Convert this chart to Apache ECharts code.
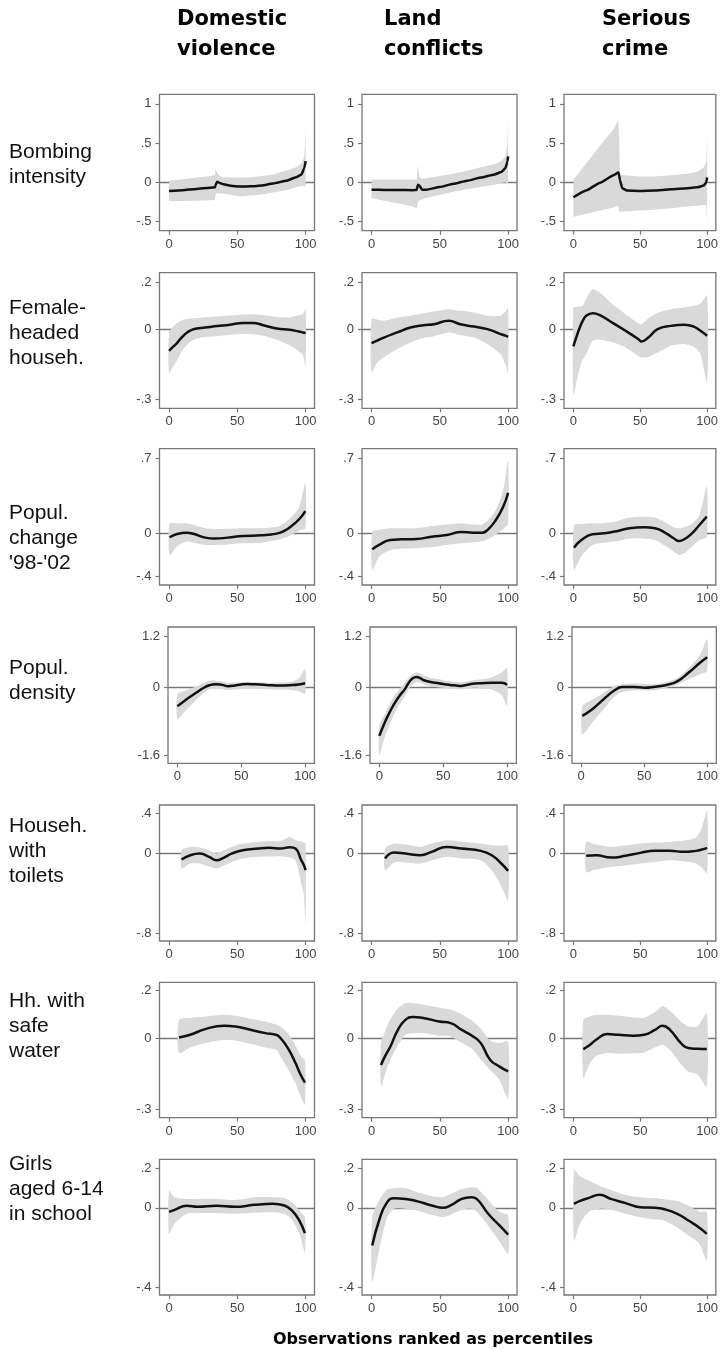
<!DOCTYPE html>
<html><head><meta charset="utf-8">
<script src="https://cdn.jsdelivr.net/npm/echarts@6/dist/echarts.min.js"></script>
<style>html,body{margin:0;padding:0;background:#fff}#c{width:721px;height:1350px}</style>
</head><body><div id="c"></div>
<script>
// ---------- DATA ----------
const colTitles = ['Domestic\nviolence', 'Land\nconflicts', 'Serious\ncrime'];
const rowLabels = ['Bombing\nintensity', 'Female-\nheaded\nhouseh.', "Popul.\nchange\n'98-'02", 'Popul.\ndensity',
  'Househ.\nwith\ntoilets', 'Hh. with\nsafe\nwater', 'Girls\naged 6-14\nin school'];
const xTitle = 'Observations ranked as percentiles';
const xTicks = [0, 50, 100];
const yTicks = [[-0.5, 0, 0.5, 1], [-0.3, 0, 0.2], [-0.4, 0, 0.7], [-1.6, 0, 1.2], [-0.8, 0, 0.4], [-0.3, 0, 0.2], [-0.4, 0, 0.2]];

// rows: [percentile, estimate, lower CI, upper CI]
const bombing_domestic = [[0,-0.11,-0.24,0.02],[10,-0.1,-0.24,0.04],[20,-0.085,-0.235,0.06],[30,-0.07,-0.23,0.08],[33.6,-0.064,-0.225,0.093],[34,-0.04,-0.15,0.165],[35.2,0.008,-0.14,0.12],[37,-0.008,-0.14,0.08],[40,-0.025,-0.145,0.065],[45,-0.045,-0.16,0.06],[52,-0.055,-0.18,0.06],[60,-0.052,-0.17,0.065],[68,-0.04,-0.155,0.08],[76,-0.017,-0.13,0.1],[86,0.02,-0.1,0.15],[93,0.064,-0.064,0.19],[97,0.1,-0.047,0.24],[99,0.18,-0.05,0.33],[100,0.27,-0.055,0.68]];
const bombing_land = [[0,-0.095,-0.2,0.035],[10,-0.097,-0.24,0.035],[20,-0.098,-0.27,0.035],[30,-0.1,-0.31,0.035],[33,-0.098,-0.33,0.035],[34,-0.03,-0.25,0.22],[35,-0.04,-0.23,0.07],[37,-0.095,-0.22,0.045],[40,-0.095,-0.2,0.05],[50,-0.06,-0.16,0.08],[60,-0.02,-0.12,0.11],[70,0.02,-0.09,0.15],[80,0.06,-0.06,0.19],[90,0.1,-0.03,0.23],[95,0.13,-0.01,0.27],[98,0.18,0,0.33],[99.5,0.26,-0.02,0.5],[100,0.33,-0.05,0.83]];
const bombing_crime = [[0,-0.19,-0.44,0.03],[10,-0.1,-0.4,0.25],[20,-0.005,-0.36,0.47],[30,0.09,-0.32,0.68],[33.6,0.123,-0.3,0.79],[34.2,0.09,-0.37,0.6],[34.8,0.03,-0.375,0.1],[36.5,-0.076,-0.375,0.09],[40,-0.106,-0.37,0.085],[50,-0.11,-0.36,0.075],[60,-0.105,-0.35,0.075],[73,-0.09,-0.33,0.09],[85,-0.075,-0.31,0.11],[92.7,-0.064,-0.3,0.135],[97.5,-0.042,-0.29,0.19],[99.3,-0.004,-0.29,0.26],[100,0.06,-0.52,0.62]];

const female_domestic = [[0,-0.093,-0.19,-0.014],[3,-0.075,-0.16,0.01],[5.6,-0.061,-0.135,0.025],[10.5,-0.028,-0.085,0.04],[16.6,-0.003,-0.05,0.046],[25,0.006,-0.035,0.05],[35,0.013,-0.03,0.054],[44.6,0.019,-0.024,0.058],[54,0.026,-0.021,0.062],[61.7,0.026,-0.022,0.064],[69,0.017,-0.028,0.06],[78.8,0.003,-0.045,0.052],[88.5,-0.003,-0.07,0.05],[95,-0.01,-0.095,0.06],[98,-0.014,-0.11,0.065],[100,-0.017,-0.16,0.085]];
const female_land = [[0,-0.06,-0.185,0.043],[4.5,-0.048,-0.14,0.04],[9,-0.036,-0.12,0.036],[18.8,-0.014,-0.085,0.05],[28.5,0.007,-0.057,0.057],[38,0.017,-0.038,0.068],[45.7,0.021,-0.03,0.075],[56.6,0.036,-0.014,0.085],[65,0.021,-0.025,0.078],[75,0.011,-0.036,0.071],[84.8,0,-0.064,0.057],[94.6,-0.021,-0.107,0.057],[98,-0.028,-0.15,0.075],[100,-0.033,-0.19,0.093]];
const female_crime = [[0,-0.074,-0.28,0.093],[2.5,-0.03,-0.22,0.095],[4.8,0.007,-0.165,0.098],[7,0.035,-0.13,0.1],[9.6,0.057,-0.107,0.13],[14.5,0.068,-0.05,0.17],[19.4,0.061,-0.045,0.157],[29,0.028,-0.055,0.107],[39,-0.007,-0.078,0.064],[48.7,-0.043,-0.115,0.025],[51,-0.053,-0.121,0.021],[56,-0.036,-0.12,0.045],[63,0,-0.1,0.07],[73,0.014,-0.071,0.085],[83,0.019,-0.064,0.093],[90,0.011,-0.075,0.1],[95,-0.007,-0.107,0.11],[100,-0.028,-0.23,0.142]];

const popchange_domestic = [[0.4,-0.034,-0.2,0.096],[5.9,-0.003,-0.12,0.096],[12.8,0.009,-0.074,0.096],[18.3,-0.003,-0.085,0.08],[26.5,-0.037,-0.105,0.05],[33.4,-0.046,-0.105,0.043],[43,-0.037,-0.1,0.045],[54,-0.022,-0.09,0.05],[67.8,-0.015,-0.084,0.05],[78.8,0,-0.06,0.065],[84.3,0.025,-0.04,0.1],[89.9,0.074,-0.01,0.158],[95.4,0.136,0.03,0.25],[99.8,0.21,0.05,0.47]];
const popchange_land = [[0.5,-0.146,-0.337,0.019],[5.5,-0.105,-0.214,0.035],[13.8,-0.059,-0.152,0.05],[22,-0.053,-0.14,0.05],[33,-0.05,-0.136,0.05],[44,-0.028,-0.125,0.07],[55,-0.012,-0.105,0.085],[66,0.015,-0.09,0.096],[74.4,0.009,-0.08,0.085],[81,0.009,-0.07,0.085],[85.4,0.04,-0.05,0.127],[91,0.127,-0.01,0.22],[96.4,0.25,0.04,0.4],[100,0.38,0.096,0.68]];
const popchange_crime = [[0.5,-0.13,-0.337,0.08],[6,-0.059,-0.21,0.09],[14.3,-0.006,-0.105,0.096],[22.6,0.003,-0.085,0.1],[30.9,0.019,-0.074,0.11],[41.9,0.05,-0.045,0.15],[52.9,0.059,-0.045,0.158],[61,0.05,-0.06,0.15],[69.4,0.003,-0.12,0.1],[75,-0.043,-0.165,0.06],[79,-0.068,-0.198,0.05],[83.2,-0.05,-0.18,0.06],[88.7,0.003,-0.12,0.09],[94.2,0.08,-0.06,0.17],[99.7,0.158,-0.028,0.44]];

const density_domestic = [[0,-0.45,-0.76,-0.17],[5,-0.34,-0.6,-0.1],[10,-0.23,-0.45,-0.04],[15,-0.13,-0.3,0.01],[20,-0.03,-0.16,0.09],[25,0.04,-0.06,0.15],[30,0.065,-0.04,0.15],[35,0.05,-0.05,0.13],[40,0.02,-0.07,0.1],[45,0.035,-0.06,0.1],[50,0.06,-0.04,0.11],[55,0.07,-0.03,0.12],[60,0.065,-0.04,0.11],[70,0.05,-0.05,0.1],[80,0.035,-0.06,0.1],[90,0.045,-0.07,0.13],[95,0.06,-0.1,0.2],[100,0.09,-0.16,0.42]];
const density_land = [[0,-1.15,-1.6,-0.9],[4,-0.85,-1.2,-0.65],[8,-0.6,-0.9,-0.4],[12,-0.38,-0.62,-0.2],[16,-0.2,-0.4,-0.04],[20,-0.05,-0.22,0.1],[23,0.1,-0.05,0.22],[26,0.2,0.06,0.3],[29,0.235,0.11,0.34],[32,0.21,0.1,0.32],[35,0.16,0.06,0.27],[40,0.12,0.02,0.22],[44,0.1,0,0.2],[50,0.07,-0.02,0.16],[55,0.05,-0.04,0.14],[60,0.035,-0.05,0.12],[64,0.025,-0.05,0.11],[68,0.045,-0.04,0.13],[73,0.075,-0.02,0.16],[80,0.09,-0.03,0.18],[88,0.1,-0.06,0.23],[96,0.1,-0.2,0.35],[100,0.05,-0.45,0.45]];
const density_crime = [[0.9,-0.68,-1.11,-0.45],[8.8,-0.525,-0.84,-0.3],[17.7,-0.29,-0.525,-0.14],[26.5,-0.078,-0.22,0.03],[32.4,0,-0.12,0.06],[41.3,0,-0.08,0.08],[50.1,-0.016,-0.08,0.07],[58.9,0.008,-0.075,0.065],[67.8,0.047,-0.02,0.12],[76.6,0.14,0.063,0.22],[85.4,0.34,0.18,0.45],[94.3,0.57,0.3,0.75],[100,0.7,0.376,1.12]];

const toilets_domestic = [[9.2,-0.06,-0.15,0.033],[15.5,-0.017,-0.1,0.067],[22.4,0,-0.1,0.06],[29.3,-0.033,-0.13,0.033],[34.8,-0.067,-0.15,0],[40.3,-0.04,-0.12,0.035],[45.8,0,-0.084,0.067],[54,0.033,-0.05,0.1],[65,0.05,-0.033,0.117],[73.3,0.057,-0.03,0.125],[81.6,0.05,-0.027,0.127],[88.5,0.064,-0.04,0.167],[92.6,0.05,-0.067,0.134],[96.8,-0.067,-0.3,0.12],[98.5,-0.11,-0.4,0.11],[100,-0.167,-0.7,0.1]];
const toilets_land = [[9.9,-0.05,-0.167,0.05],[16.5,0.01,-0.09,0.1],[24.8,0,-0.09,0.09],[35.8,-0.017,-0.1,0.067],[44,0.017,-0.07,0.1],[55,0.067,-0.033,0.134],[66,0.05,-0.05,0.12],[80,0.027,-0.067,0.1],[88,-0.017,-0.167,0.084],[95,-0.1,-0.33,0.08],[100,-0.174,-0.47,0.077]];
const toilets_crime = [[9.6,-0.023,-0.184,0.117],[17,-0.017,-0.16,0.09],[28,-0.04,-0.134,0.067],[39,-0.023,-0.12,0.08],[50,0.007,-0.1,0.1],[61,0.027,-0.085,0.11],[72,0.027,-0.067,0.117],[83,0.017,-0.08,0.13],[91.5,0.027,-0.1,0.16],[96,0.04,-0.14,0.26],[100,0.057,-0.2,0.435]];

const water_domestic = [[7.3,0.003,-0.063,0.077],[15.5,0.014,-0.04,0.085],[26.5,0.038,-0.021,0.091],[40.3,0.052,-0.007,0.098],[48.6,0.049,-0.01,0.094],[59.6,0.035,-0.024,0.082],[70.6,0.021,-0.04,0.07],[78.8,0.013,-0.05,0.056],[81.6,0,-0.077,0.049],[87,-0.042,-0.13,0.02],[92.6,-0.105,-0.19,-0.03],[96,-0.15,-0.24,-0.07],[99.5,-0.187,-0.28,-0.098]];
const water_land = [[6.9,-0.113,-0.204,-0.021],[10,-0.075,-0.15,0.03],[13.8,-0.035,-0.09,0.08],[19.3,0.035,-0.03,0.125],[24.8,0.077,0.014,0.148],[30.3,0.089,0.02,0.148],[38.6,0.084,0.021,0.14],[49.6,0.07,0.01,0.128],[57.9,0.063,0.007,0.12],[66,0.035,-0.02,0.1],[74.4,0.007,-0.05,0.07],[80,-0.021,-0.09,0.04],[86.8,-0.091,-0.134,-0.01],[93.7,-0.12,-0.176,-0.021],[100,-0.14,-0.253,-0.014]];
const water_crime = [[7.4,-0.046,-0.169,0.077],[12,-0.03,-0.11,0.09],[17,-0.007,-0.075,0.098],[25.3,0.017,-0.063,0.098],[33.6,0.014,-0.066,0.094],[44.6,0.01,-0.064,0.088],[52.9,0.014,-0.06,0.086],[61,0.035,-0.04,0.11],[66.7,0.052,-0.028,0.134],[72.2,0.035,-0.05,0.115],[80.4,-0.021,-0.11,0.07],[86,-0.042,-0.141,0.049],[93,-0.045,-0.155,0.05],[99.7,-0.046,-0.204,0.105]];

const girls_domestic = [[0,-0.02,-0.131,0.088],[4,-0.01,-0.08,0.054],[12.8,0.01,-0.03,0.045],[21,0.005,-0.027,0.045],[34.8,0.01,-0.027,0.045],[48.6,0.005,-0.03,0.04],[62.3,0.015,-0.025,0.054],[76,0.02,-0.022,0.054],[84.4,0.012,-0.03,0.05],[89.9,-0.013,-0.06,0.029],[95.4,-0.064,-0.13,-0.013],[99.5,-0.128,-0.224,-0.047]];
const girls_land = [[0.5,-0.19,-0.375,-0.047],[5.5,-0.064,-0.215,0.037],[11,0.024,-0.056,0.09],[16.5,0.049,-0.005,0.1],[24.8,0.045,-0.005,0.1],[33,0.034,-0.013,0.08],[44,0.012,-0.035,0.06],[52.3,0,-0.047,0.054],[57.9,0.012,-0.035,0.07],[66,0.045,-0.01,0.095],[73,0.054,-0.005,0.104],[77,0.045,-0.02,0.1],[85.4,-0.03,-0.09,0.04],[93.7,-0.089,-0.17,-0.02],[100,-0.135,-0.232,-0.039]];
const girls_crime = [[0.5,0.02,-0.165,0.192],[5,0.035,-0.08,0.16],[11.6,0.05,-0.02,0.138],[19.8,0.066,-0.005,0.11],[28,0.045,-0.01,0.09],[39,0.024,-0.03,0.065],[50,0.003,-0.047,0.054],[61,0,-0.058,0.048],[66.7,-0.005,-0.062,0.045],[77.7,-0.03,-0.1,0.034],[86,-0.064,-0.14,0.01],[94.2,-0.1,-0.182,-0.02],[99.7,-0.131,-0.266,-0.022]];

const panels = [
  [bombing_domestic, bombing_land, bombing_crime],
  [female_domestic, female_land, female_crime],
  [popchange_domestic, popchange_land, popchange_crime],
  [density_domestic, density_land, density_crime],
  [toilets_domestic, toilets_land, toilets_crime],
  [water_domestic, water_land, water_crime],
  [girls_domestic, girls_land, girls_crime]
];

// ---------- LAYOUT ----------
const rowTop = [94.3, 272.7, 448.7, 627, 805, 982.3, 1159.3];
const rowBottom = [230.7, 408.3, 585, 763.3, 941, 1117.7, 1295];
const yExtent = [[-0.617, 1.121], [-0.338, 0.241], [-0.477, 0.789], [-1.795, 1.412], [-0.877, 0.487], [-0.335, 0.235], [-0.44, 0.245]];
const colLeft = [159.5, 362, 564];
const colLeftWide = [168, 370, 572];   // row with wider tick labels
const rowLabelTop = [152, 308, 513, 668, 826, 1001, 1164];
const FONT = '"Liberation Sans", Arial, sans-serif';
const BOLD = '"DejaVu Sans", sans-serif';

function fmt(v) {
  let s = String(+Number(v).toFixed(2));
  return s.replace(/^(-?)0\./, '$1.');
}

const grid = [], xAxis = [], yAxis = [], series = [];
panels.forEach((row, r) => {
  row.forEach((rows, c) => {
    const i = grid.length;
    const wide = r === 3;
    const left = wide ? colLeftWide[c] : colLeft[c];
    const width = wide ? 146.4 : 155;
    grid.push({left: left, top: rowTop[r], width: width, height: rowBottom[r] - rowTop[r],
      show: true, borderColor: '#777', borderWidth: 1.3, backgroundColor: 'transparent'});
    xAxis.push({type: 'value', gridIndex: i, min: wide ? -7.3 : -7, max: wide ? 107.3 : 106.5,
      splitLine: {show: false},
      axisLine: {show: false, onZero: false},
      axisTick: {show: true, length: 4, customValues: xTicks, lineStyle: {color: '#777', width: 1.2}},
      axisLabel: {customValues: xTicks, fontSize: 13, color: '#444', fontFamily: FONT, margin: 7}});
    yAxis.push({type: 'value', gridIndex: i, min: yExtent[r][0], max: yExtent[r][1],
      splitLine: {show: false},
      axisLine: {show: false, onZero: false},
      axisTick: {show: true, length: 4, customValues: yTicks[r], lineStyle: {color: '#777', width: 1.2}},
      axisLabel: {customValues: yTicks[r], fontSize: 13, color: '#444', fontFamily: FONT, margin: 8, formatter: fmt}});
    series.push({
      type: 'custom', xAxisIndex: i, yAxisIndex: i, silent: true, z: 2, clip: true,
      data: rows,
      renderItem: function (params, api) {
        if (params.dataIndex !== 0) return null;
        const lower = rows.map(p => api.coord([p[0], p[2]]));
        const upper = rows.slice().reverse().map(p => api.coord([p[0], p[3]]));
        return {type: 'polygon', shape: {points: lower.concat(upper), smooth: r === 0 ? 0 : 0.25},
          style: {fill: '#d9d9d9', stroke: null}};
      }
    });
    const lineSeries = {
      type: 'line', xAxisIndex: i, yAxisIndex: i, silent: true, z: 3,
      data: rows.map(p => [p[0], p[1]]),
      symbol: 'none', smooth: r === 0 ? 0.15 : 0.5,
      lineStyle: {color: '#111', width: 2.5},
      markLine: {silent: true, symbol: 'none', z: 1, animation: false, label: {show: false},
        lineStyle: {color: '#777', width: 1.3, type: 'solid'}, data: [{yAxis: 0}]}
    };
    if (r === 0) lineSeries.smoothMonotone = 'x';
    series.push(lineSeries);
  });
});

const graphic = [];
const colTitleLeft = [177, 384, 602];
colTitles.forEach((t, c) => graphic.push({type: 'text', left: colTitleLeft[c], top: 5,
  style: {text: t, fontFamily: BOLD, fontWeight: 'bold', fontSize: 21, lineHeight: 30, fill: '#000'}}));
rowLabels.forEach((t, r) => graphic.push({type: 'text', left: 9, top: rowLabelTop[r] - 12.5,
  style: {text: t, fontFamily: FONT, fontSize: 21, lineHeight: 25, fill: '#111'}}));
graphic.push({type: 'text', x: 433, y: 1340,
  style: {text: xTitle, fontFamily: BOLD, fontWeight: 'bold', fontSize: 16, fill: '#000',
    textAlign: 'center', align: 'center', textVerticalAlign: 'middle', verticalAlign: 'middle'}});

const chart = echarts.init(document.getElementById('c'), null, {renderer: 'canvas'});
chart.setOption({backgroundColor: '#fff', animation: false, grid, xAxis, yAxis, series, graphic});
</script></body></html>
